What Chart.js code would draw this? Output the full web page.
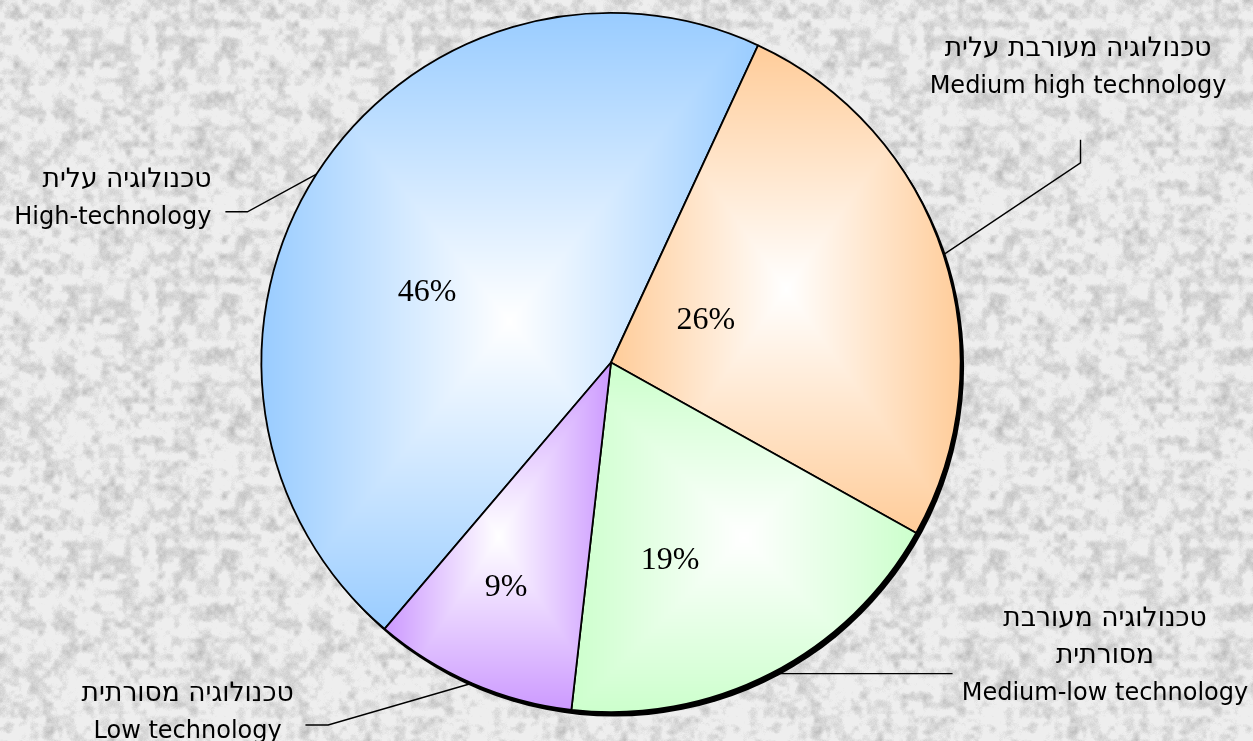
<!DOCTYPE html>
<html>
<head>
<meta charset="utf-8">
<script src="https://cdn.jsdelivr.net/npm/chart.js@4"></script>
<style>
  html, body { margin: 0; padding: 0; background: #ffffff; }
  canvas { display: block; }
</style>
</head>
<body>
<canvas id="pieChart" width="1253" height="741"></canvas>
<script>
// data
const categoriesHe = ['טכנולוגיה עלית', 'טכנולוגיה מעורבת עלית', 'טכנולוגיה מעורבת\nמסורתית', 'טכנולוגיה מסורתית']
const categoriesEn = ['High-technology', 'Medium high technology', 'Medium-low technology', 'Low technology']
const shares = [45.7, 26.2, 18.7, 9.4]
const sliceColors = ['#99CCFF', '#FFCC99', '#CCFFCC', '#CC99FF']

// where the percent text sits inside each slice (fractions of the radius, from the centre)
const percentSpots = [[-0.526, -0.203], [0.271, -0.123], [0.169, 0.563], [-0.3, 0.64]]

// outer labels + leader lines (fractions of the radius, from the centre)
const outerLabels = [
  { align: 'right', at: [-1.143, -0.503], leader: [[-1.04, -0.431], [-1.103, -0.431]] },
  { align: 'center', at: [1.336, -0.877], leader: [[1.343, -0.571], [1.343, -0.637]] },
  { align: 'center', at: [1.413, 0.754], leader: [[0.977, null]] },
  { align: 'center', at: [-1.211, 0.969], leader: [[-0.809, 1.037], [-0.874, 1.037]] },
]

const hexToRgb = (hex) => [1, 3, 5].map((i) => parseInt(hex.substr(i, 2), 16))

// granite-ish background tile, deterministic hash noise
const graniteTile = (size) => {
  const c = document.createElement('canvas')
  c.width = c.height = size
  const g = c.getContext('2d')
  const img = g.createImageData(size, size)
  const hash = (x, y) => {
    let h = (x * 374761393 + y * 668265263) | 0
    h = Math.imul(h ^ (h >>> 13), 1274126177)
    return ((h ^ (h >>> 16)) >>> 0) / 4294967295
  }
  const smooth = (x, y, cell) => {
    const n = size / cell
    const gx = x / cell, gy = y / cell
    const x0 = Math.floor(gx), y0 = Math.floor(gy)
    const fx = gx - x0, fy = gy - y0
    const sx = fx * fx * (3 - 2 * fx), sy = fy * fy * (3 - 2 * fy)
    const v = (a, b) => hash(((a % n) + n) % n + cell * 1000, ((b % n) + n) % n)
    const top = v(x0, y0) * (1 - sx) + v(x0 + 1, y0) * sx
    const bot = v(x0, y0 + 1) * (1 - sx) + v(x0 + 1, y0 + 1) * sx
    return top * (1 - sy) + bot * sy
  }
  for (let y = 0; y < size; y++) {
    for (let x = 0; x < size; x++) {
      const v = 0.2 * smooth(x, y, 16) + 0.45 * smooth(x, y, 8) + 0.25 * smooth(x, y, 4) + 0.1 * hash(x, y)
      const dark = Math.max(0, v - 0.4) / 0.6
      const gray = Math.round(238 - 62 * dark)
      const i = (y * size + x) * 4
      img.data[i] = img.data[i + 1] = img.data[i + 2] = gray
      img.data[i + 3] = 255
    }
  }
  g.putImageData(img, 0, 0)
  return c
}

// "from centre" box gradient: white in the middle of the slice's bounding box, colour at its edges
const fillCache = {}
const sliceFill = (ctx) => {
  const base = sliceColors[ctx.dataIndex]
  const arc = ctx.element
  if (!arc || arc.outerRadius == null || isNaN(arc.x)) return base
  const { x, y, startAngle, endAngle, outerRadius } = arc
  const key = [ctx.dataIndex, x, y, startAngle, endAngle, outerRadius].join('|')
  if (fillCache[key]) return fillCache[key]

  const pts = [[x, y]]
  const at = (a) => [x + outerRadius * Math.cos(a), y + outerRadius * Math.sin(a)]
  pts.push(at(startAngle), at(endAngle))
  for (let k = -8; k <= 8; k++) {
    const a = (k * Math.PI) / 2
    if (a > startAngle && a < endAngle) pts.push(at(a))
  }
  const x0 = Math.min(...pts.map((p) => p[0]))
  const x1 = Math.max(...pts.map((p) => p[0]))
  const y0 = Math.min(...pts.map((p) => p[1]))
  const y1 = Math.max(...pts.map((p) => p[1]))
  const w = Math.ceil(x1 - x0) + 2
  const h = Math.ceil(y1 - y0) + 2
  const off = document.createElement('canvas')
  off.width = w
  off.height = h
  const g = off.getContext('2d')
  const img = g.createImageData(w, h)
  const [r, gg, b] = hexToRgb(base)
  const hw = (x1 - x0) / 2, hh = (y1 - y0) / 2
  for (let py = 0; py < h; py++) {
    for (let px = 0; px < w; px++) {
      const t = Math.min(1, Math.max(Math.abs(px - hw) / hw, Math.abs(py - hh) / hh))
      const i = (py * w + px) * 4
      img.data[i] = Math.round(255 + (r - 255) * t)
      img.data[i + 1] = Math.round(255 + (gg - 255) * t)
      img.data[i + 2] = Math.round(255 + (b - 255) * t)
      img.data[i + 3] = 255
    }
  }
  g.putImageData(img, 0, 0)
  const pattern = ctx.chart.ctx.createPattern(off, 'no-repeat')
  pattern.setTransform(new DOMMatrix([1, 0, 0, 1, x0, y0]))
  fillCache[key] = pattern
  return pattern
}

const backdrop = {
  id: 'backdrop',
  beforeDraw(chart) {
    const { ctx, width, height } = chart
    if (!chart.$granite) chart.$granite = ctx.createPattern(graniteTile(256), 'repeat')
    ctx.save()
    ctx.fillStyle = chart.$granite
    ctx.fillRect(0, 0, width, height)
    ctx.restore()
  },
  beforeDatasetsDraw(chart) {
    // drop shadow under the pie
    const arc = chart.getDatasetMeta(0).data[0]
    if (!arc) return
    const { ctx } = chart
    ctx.save()
    ctx.fillStyle = '#000'
    ctx.beginPath()
    ctx.arc(arc.x + 3, arc.y + 4, arc.outerRadius + 0.5, 0, Math.PI * 2)
    ctx.fill()
    ctx.restore()
  },
}

const pieLabels = {
  id: 'pieLabels',
  afterDatasetsDraw(chart) {
    const { ctx } = chart
    const arcs = chart.getDatasetMeta(0).data
    const total = shares.reduce((a, b) => a + b, 0)
    ctx.save()
    ctx.fillStyle = '#000'
    ctx.strokeStyle = '#000'

    // percentages
    ctx.font = '32px "Liberation Serif", "Times New Roman", serif'
    ctx.textAlign = 'center'
    ctx.textBaseline = 'middle'
    arcs.forEach((arc, i) => {
      const R = arc.outerRadius
      const [fx, fy] = percentSpots[i]
      ctx.fillText(Math.round((shares[i] / total) * 100) + '%', arc.x + fx * R, arc.y + fy * R + 1)
    })

    // category labels with leaders
    ctx.textBaseline = 'alphabetic'
    ctx.lineWidth = 1.4
    arcs.forEach((arc, i) => {
      const R = arc.outerRadius
      const lbl = outerLabels[i]
      const mid = (arc.startAngle + arc.endAngle) / 2
      let px = arc.x + R * Math.cos(mid)
      let py = arc.y + R * Math.sin(mid)
      ctx.beginPath()
      ctx.moveTo(px, py)
      lbl.leader.forEach(([fx, fy]) => {
        px = arc.x + fx * R
        py = fy === null ? py : arc.y + fy * R
        ctx.lineTo(px, py)
      })
      ctx.stroke()

      const heLines = categoriesHe[i].split('\n')
      ctx.textAlign = lbl.align
      const tx = arc.x + lbl.at[0] * R
      const ty = arc.y + lbl.at[1] * R
      ctx.font = '26.5px "DejaVu Sans", sans-serif'
      heLines.forEach((t, k) => ctx.fillText(t, tx, ty + k * 37))
      ctx.font = '24px "DejaVu Sans", sans-serif'
      ctx.fillText(categoriesEn[i], tx, ty + heLines.length * 37)
    })
    ctx.restore()
  },
}

const chart = new Chart('pieChart', {
  type: 'pie',
  data: {
    labels: categoriesEn,
    datasets: [
      {
        data: shares,
        backgroundColor: sliceFill,
        borderColor: '#000',
        borderWidth: 1.8,
        hoverOffset: 0,
      },
    ],
  },
  options: {
    responsive: false,
    animation: false,
    rotation: 220.35,
    layout: { padding: { top: 12, bottom: 28, left: 0, right: 31 } },
    plugins: {
      legend: { display: false },
      tooltip: { enabled: false },
    },
  },
  plugins: [backdrop, pieLabels],
})

// second pass so the fills can use the arc geometry
chart.update()
</script>
</body>
</html>
